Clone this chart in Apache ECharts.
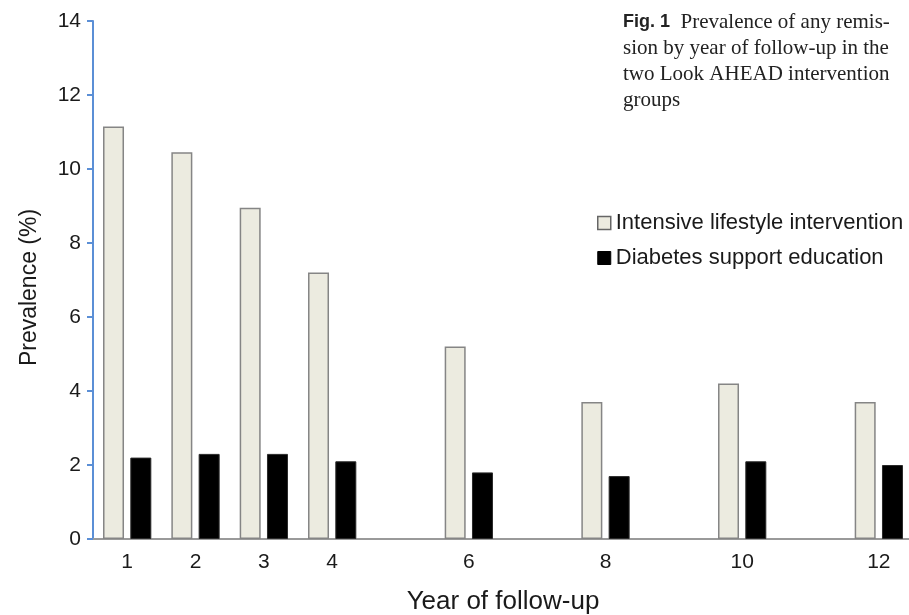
<!DOCTYPE html>
<html>
<head>
<meta charset="utf-8">
<script src="https://cdn.jsdelivr.net/npm/echarts@6/dist/echarts.min.js"></script>
<style>
html,body{margin:0;padding:0;background:#fff;}
#chart{width:909px;height:615px;}
</style>
</head>
<body>
<div id="chart"></div>
<script>
var years = ['1','2','3','4','5','6','7','8','9','10','11','12'];
var shownLabels = ['1','2','3','4','6','8','10','12'];
var intensive = [11.15, 10.45, 8.95, 7.2, null, 5.2, null, 3.7, null, 4.2, null, 3.7];
var support = [2.2, 2.3, 2.3, 2.1, null, 1.8, null, 1.7, null, 2.1, null, 2.0];
var yTicks = [0, 2, 4, 6, 8, 10, 12, 14];
var seriesNames = ['Intensive lifestyle intervention', 'Diabetes support education'];
var captionLines = ['Prevalence of any remis-', 'sion by year of follow-up in the', 'two Look AHEAD intervention', 'groups'];

var chart = echarts.init(document.getElementById('chart'), null, {renderer: 'canvas'});
var sans = 'Liberation Sans, Arial, Helvetica, sans-serif';
var serif = 'Liberation Serif, Times New Roman, serif';

var option = {
  backgroundColor: '#ffffff',
  animation: false,
  grid: { left: 93, top: 21, width: 820, height: 518, containLabel: false, outerBoundsMode: 'none' },
  legend: {
    orient: 'vertical',
    left: 597,
    top: 212,
    padding: 0,
    itemWidth: 13,
    itemHeight: 13,
    itemGap: 13,
    icon: 'rect',
    textStyle: { fontFamily: sans, fontSize: 22, color: '#1a1a1a' },
    data: [
      { name: seriesNames[0], itemStyle: { color: '#ECEBE0', borderColor: '#666', borderWidth: 1.5 } },
      { name: seriesNames[1], itemStyle: { color: '#000', borderColor: '#000', borderWidth: 1 } }
    ]
  },
  xAxis: {
    type: 'category',
    data: years,
    name: 'Year of follow-up',
    nameLocation: 'middle',
    nameGap: 50,
    nameTextStyle: { fontFamily: sans, fontSize: 26, color: '#1a1a1a' },
    axisLine: { show: true, lineStyle: { color: '#9a9a9a', width: 2 } },
    axisTick: { show: false },
    axisLabel: {
      interval: 0,
      margin: 13,
      fontFamily: sans, fontSize: 21, color: '#1a1a1a',
      formatter: function (v) { return shownLabels.indexOf(v) >= 0 ? v : ''; }
    },
    splitLine: { show: false }
  },
  yAxis: {
    type: 'value',
    min: 0, max: 14, interval: 2,
    name: 'Prevalence (%)',
    nameLocation: 'middle',
    nameGap: 52,
    nameRotate: 90,
    nameTextStyle: { fontFamily: sans, fontSize: 23, color: '#1a1a1a', padding: [0,15,0,0] },
    axisLine: { show: true, lineStyle: { color: '#5b8fd6', width: 2 } },
    axisTick: { show: true, length: 6, inside: false, lineStyle: { color: '#5b8fd6', width: 2 } },
    axisLabel: {
      margin: 12, fontFamily: sans, fontSize: 21, color: '#1a1a1a',
      formatter: function (v) { return yTicks.indexOf(v) >= 0 ? String(v) : ''; }
    },
    splitLine: { show: false }
  },
  series: [
    {
      name: seriesNames[0], type: 'bar', data: intensive,
      barWidth: 21, barGap: '30%',
      itemStyle: { color: '#ECEBE0', borderColor: '#858585', borderWidth: 1.5 }
    },
    {
      name: seriesNames[1], type: 'bar', data: support,
      barWidth: 21,
      itemStyle: { color: '#000000', borderColor: '#2a2a2a', borderWidth: 1 }
    }
  ],
  graphic: [
    {
      type: 'text',
      left: 623,
      top: 9,
      style: {
        text: '{b|Fig. 1}  ' + captionLines.join('\n'),
        font: '21px ' + serif,
        fill: '#222',
        lineHeight: 26,
        rich: {
          b: { fontFamily: sans, fontWeight: 'bold', fontSize: 18, fill: '#222', lineHeight: 26 }
        }
      }
    }
  ]
};
chart.setOption(option);
</script>
</body>
</html>
